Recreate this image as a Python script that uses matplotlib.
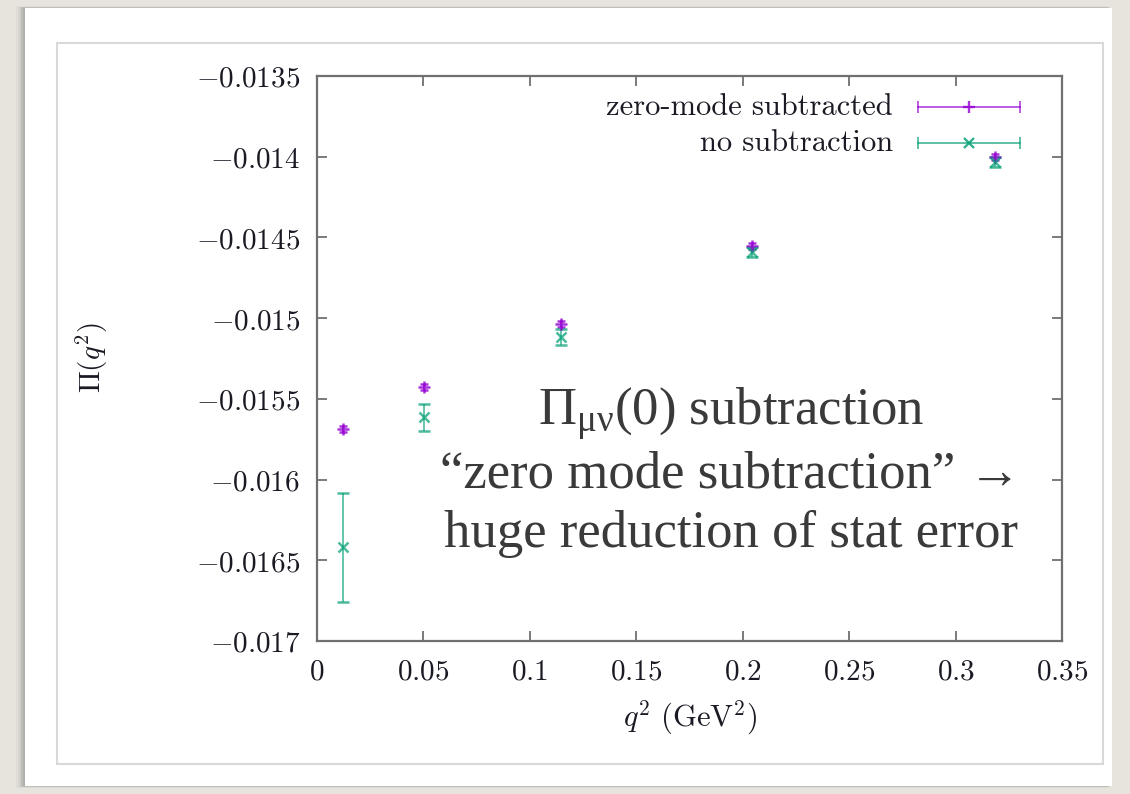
import matplotlib.pyplot as plt
from matplotlib.patches import Rectangle
from matplotlib.lines import Line2D

plt.rcParams['mathtext.fontset'] = 'cm'

# data
q2 = [0.0122, 0.0503, 0.1145, 0.2044, 0.3185]
pi_sub = [-0.015688, -0.015427, -0.015037, -0.014553, -0.014002]
pi_sub_err = [0.00002, 0.00002, 0.00002, 0.00002, 0.00002]
pi_nosub = [-0.016419, -0.015613, -0.015117, -0.014591, -0.014033]
pi_nosub_err = [0.000338, 0.000084, 0.00005, 0.00003, 0.00003]

x_ticks = [0, 0.05, 0.1, 0.15, 0.2, 0.25, 0.3, 0.35]
x_labels = ['0', '0.05', '0.1', '0.15', '0.2', '0.25', '0.3', '0.35']
y_ticks = [-0.0135, -0.014, -0.0145, -0.015, -0.0155, -0.016, -0.0165, -0.017]
y_labels = ['-0.0135', '-0.014', '-0.0145', '-0.015', '-0.0155', '-0.016', '-0.0165', '-0.017']

legend_names = ['zero-mode subtracted', 'no subtraction']
note_lines = ['Π$_{\\mathrm{μν}}$(0) subtraction',
              '“zero mode subtraction” →',
              'huge reduction of stat error']

PURPLE = '#9400D3'
GREEN = '#009E73'
W, H = 1130, 794


def fx(px):
    return px / W


def fy(py):
    return 1 - py / H


fig = plt.figure(figsize=(11.3, 7.94), dpi=100)
fig.patch.set_facecolor('#e7e4de')

# slide panel with a soft shadow on the left
for i, a in enumerate([0.05, 0.06, 0.08, 0.10, 0.13]):
    d = 9 - i * 1.8
    fig.patches.append(Rectangle((fx(25 - d), fy(786 + d * 0.2)), fx(1087 + d * 0.5), (778 + d * 0.4) / H,
                                 transform=fig.transFigure, facecolor='#555', alpha=a,
                                 edgecolor='none', zorder=0))
fig.patches.append(Rectangle((fx(25), fy(786)), fx(1087), 778 / H, transform=fig.transFigure,
                             facecolor='white', edgecolor='none', zorder=1))
fig.patches.append(Rectangle((fx(57), fy(764)), fx(1046), 721 / H, transform=fig.transFigure,
                             facecolor='white', edgecolor='#d9d9d9', lw=1.5, zorder=2))

ax = fig.add_axes([fx(317), fy(641), fx(1062 - 317), (641 - 76) / H])
ax.set_zorder(3)

ax.errorbar(q2, pi_sub, yerr=pi_sub_err, fmt='+', color=PURPLE, ms=9, mew=1.8,
            elinewidth=1.2, capsize=3, capthick=1.0, alpha=0.8)
ax.errorbar(q2, pi_nosub, yerr=pi_nosub_err, fmt='x', color=GREEN, ms=7, mew=1.8,
            elinewidth=1.2, capsize=4, capthick=1.2, alpha=0.7)

ax.set_xlim(0, 0.35)
ax.set_ylim(-0.017, -0.0135)
ax.set_xticks(x_ticks)
ax.set_xticklabels(['$' + s + '$' for s in x_labels])
ax.set_yticks(y_ticks)
ax.set_yticklabels(['$' + s + '$' for s in y_labels])
ax.tick_params(direction='in', length=7, width=1.3, color='#707070', labelsize=21,
               labelcolor='#1a1a24', top=True, right=True, pad=12)
for sp in ax.spines.values():
    sp.set_color('#707070')
    sp.set_linewidth(1.6)

# gnuplot style key
key_y = [1 - (107 - 76) / 565, 1 - (143 - 76) / 565]
key_x0, key_x1, key_xm = (918 - 317) / 745, (1020 - 317) / 745, (969 - 317) / 745
for name, yk, col, mk in zip(legend_names, key_y, [PURPLE, GREEN], ['+', 'x']):
    ax.add_line(Line2D([key_x0, key_x1], [yk, yk], transform=ax.transAxes, color=col,
                       lw=1.2, alpha=0.75))
    ax.add_line(Line2D([key_x0, key_x1], [yk, yk], transform=ax.transAxes, color=col,
                       ls='none', marker='|', ms=9, mew=1.2, alpha=0.75))
    ax.add_line(Line2D([key_xm], [yk], transform=ax.transAxes, color=col, ls='none',
                       marker=mk, ms=9 if mk == '+' else 7, mew=1.7, alpha=0.8))
    ax.text((893 - 317) / 745, yk, name, transform=ax.transAxes, ha='right', va='center',
            fontsize=22, family='cmr10', color='#1a1a24')

fig.text(fx(92), fy(358), r'$\Pi(q^2)$', rotation=90, ha='center', va='center',
         fontsize=21, color='#1a1a24')
fig.text(fx(690), fy(718), r'$q^2\ (\mathrm{GeV}^2)$', ha='center', va='center',
         fontsize=22, color='#1a1a24')

plt.rcParams['mathtext.rm'] = 'Liberation Serif'
plt.rcParams['mathtext.it'] = 'Liberation Serif:italic'
for line, py in zip(note_lines, [414, 474, 534]):
    fig.text(fx(731), fy(py), line, ha='center', va='center', fontsize=38,
             family=['Liberation Serif', 'DejaVu Serif'], math_fontfamily='custom',
             color='#3a3a3a', zorder=5)

fig.savefig('out.png', dpi=100, facecolor=fig.get_facecolor())
